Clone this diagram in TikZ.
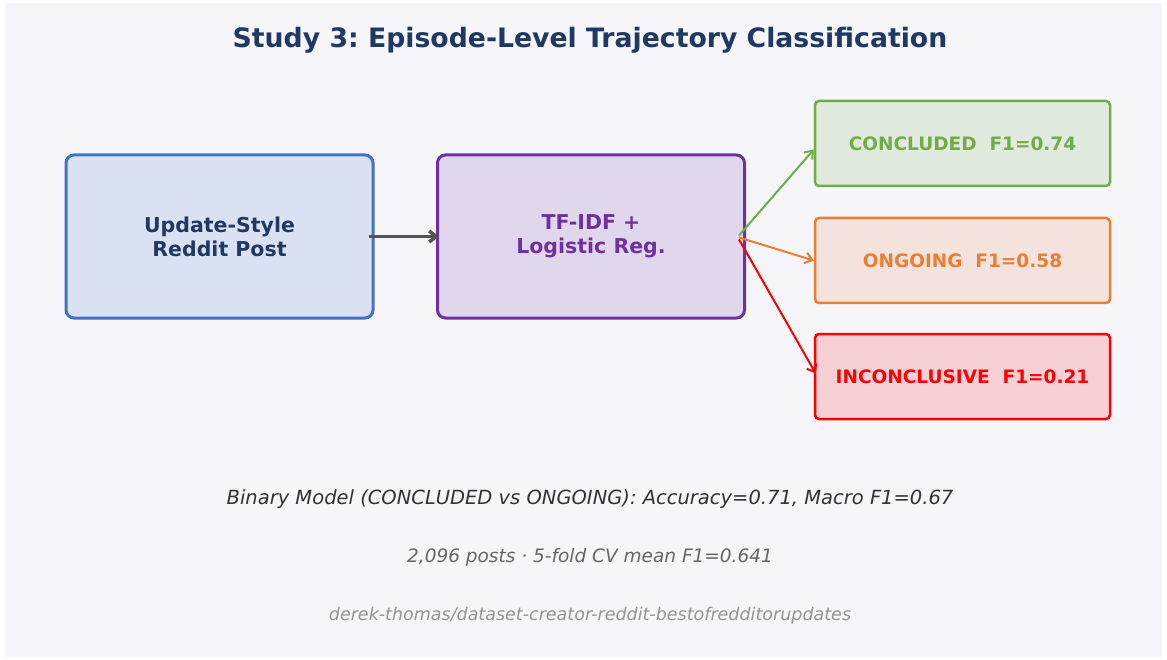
\documentclass[tikz,border=0pt]{standalone}
\usepackage{fontspec}
\setmainfont{DejaVu Sans}
\usepackage{xcolor}
\usetikzlibrary{arrows.meta}
\definecolor{bgcol}{RGB}{245,245,250}
\definecolor{navy}{RGB}{31,56,100}
\definecolor{postblue}{RGB}{68,114,196}
\definecolor{modelpurple}{RGB}{112,48,160}
\definecolor{cgreen}{RGB}{112,173,71}
\definecolor{corange}{RGB}{237,125,49}
\definecolor{cred}{RGB}{255,0,0}
\frenchspacing

\begin{document}
\begin{tikzpicture}[x=1pt,y=-1pt,
  bigbox/.style={rounded corners=8pt,line width=3pt,minimum width=307pt,minimum height=163pt,
    align=center,font=\bfseries\fontsize{20.5}{24}\selectfont},
  classbox/.style={rounded corners=4pt,line width=2.5pt,minimum width=295pt,minimum height=85pt,
    font=\bfseries\fontsize{18.5}{22}\selectfont},
  flow/.style={line width=2pt,-{Straight Barb[length=7pt,width=11pt]}}]
  \useasboundingbox[fill=white] (0,0) rectangle (1167,660);
  \fill[bgcol] (5,3) rectangle (1162,657);
  \node[text=navy,font=\bfseries\fontsize{26.7}{31}\selectfont] (title) at (590,40)
    {Study 3: Episode-Level Trajectory Classification};
  \node[bigbox,draw=postblue,fill=postblue!15!bgcol,text=navy] (post) at (219.5,236.5)
    {Update-Style\\Reddit Post};
  \node[bigbox,draw=modelpurple,fill=modelpurple!15!bgcol,text=modelpurple] (model) at (591,236.5)
    {TF-IDF +\\Logistic Reg.};
  \draw[flow,line width=3.5pt,black!67,shorten <=-6pt,shorten >=-3pt] (post.east) -- (model.west);
  \foreach \nm/\yy/\col/\lab/\score in {concl/143.5/cgreen/CONCLUDED/0.74,
      ongo/260.5/corange/ONGOING/0.58,
      incon/376.5/cred/INCONCLUSIVE/0.21}{
    \node[classbox,draw=\col,fill=\col!15!bgcol,text=\col] (\nm) at (962.5,\yy) {\lab\ \ F1=\score};
  }
  \draw[flow,cgreen] ([shift={(-7pt,1pt)}]model.east) -- ([yshift=-6pt]concl.west);
  \draw[flow,corange] ([shift={(-7pt,-1pt)}]model.east) -- (ongo.west);
  \draw[flow,cred] ([shift={(-7pt,-3pt)}]model.east) -- ([shift={(2pt,3pt)}]incon.west);
  \node[text=black!80,font=\itshape\fontsize{19.5}{23}\selectfont] (binary) at (590,499)
    {Binary Model (CONCLUDED vs ONGOING): Accuracy=0.71, Macro F1=0.67};
  \node[text=black!60,font=\itshape\fontsize{18.5}{22}\selectfont] (cv) at (590,557)
    {2,096 posts · 5-fold CV mean F1=0.641};
  \node[text=black!42,font=\itshape\fontsize{17.5}{21}\selectfont] (repo) at (590,616)
    {derek-thomas/dataset-creator-reddit-bestofredditorupdates};
\end{tikzpicture}
\end{document}
